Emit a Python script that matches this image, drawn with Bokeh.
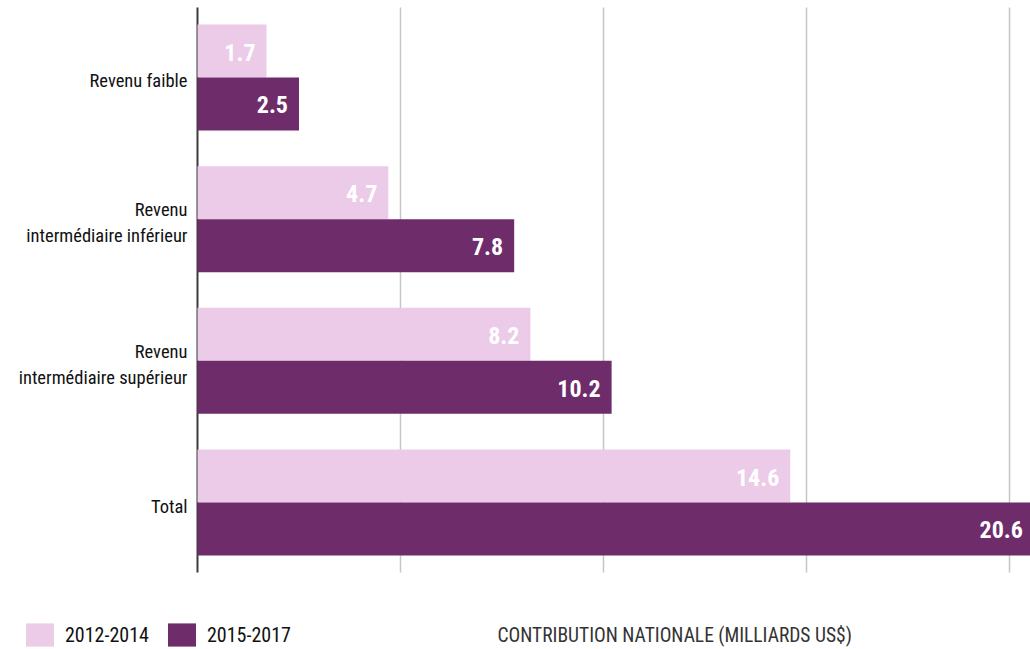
from bokeh.plotting import figure
from bokeh.models import ColumnDataSource, Range1d, Legend, LegendItem, Label
from bokeh.core.properties import value
from bokeh.embed import file_html
from bokeh.resources import INLINE

# ---- data ----
categories = ["Revenu faible", "Revenu\nintermédiaire inférieur",
              "Revenu\nintermédiaire supérieur", "Total"]
v_2012_2014 = [1.7, 4.7, 8.2, 14.6]
v_2015_2017 = [2.5, 7.8, 10.2, 20.6]
periods = ["2012-2014", "2015-2017"]
x_grid_ticks = [5, 10, 15, 20]
x_title = "CONTRIBUTION  NATIONALE  (MILLIARDS  US$)"

LIGHT = "#EBCBE8"
DARK = "#6E2C6B"
FONT = "Roboto Condensed"

n = len(categories)
centers = [n - 0.5 - i for i in range(n)]
bar_h = 0.374
chart_bottom, chart_top = 0.006, 3.994   # extent of the bar area (y units)

src1 = ColumnDataSource(dict(y=[c + bar_h / 2 for c in centers], x=v_2012_2014,
                             lab=[f"{v:.1f}" for v in v_2012_2014]))
src2 = ColumnDataSource(dict(y=[c - bar_h / 2 for c in centers], x=v_2015_2017,
                             lab=[f"{v:.1f}" for v in v_2015_2017]))
cat_src = ColumnDataSource(dict(y=centers, x=[0] * n, lab=categories))
grid_src = ColumnDataSource(dict(x=x_grid_ticks))

p = figure(width=1030, height=649, output_backend="svg", toolbar_location=None,
           x_range=Range1d(-4.852, 20.517), y_range=Range1d(-0.5376, 4.0435),
           x_axis_location=None, y_axis_location=None,
           min_border_left=0, min_border_right=0, min_border_top=0,
           min_border_bottom=0)
p.outline_line_color = None
p.xgrid.visible = False
p.ygrid.visible = False

# vertical grid lines and the category axis line
p.segment(x0="x", x1="x", y0=chart_bottom, y1=chart_top, source=grid_src,
          line_color="#c6c6c6", line_width=1.5)
p.segment(x0=0, x1=0, y0=chart_bottom, y1=chart_top,
          line_color="#3c3c3c", line_width=2)

r1 = p.hbar(y="y", right="x", left=0, height=bar_h, source=src1,
            fill_color=LIGHT, line_color=None)
r2 = p.hbar(y="y", right="x", left=0, height=bar_h, source=src2,
            fill_color=DARK, line_color=None)

for src in (src1, src2):
    p.text(x="x", y="y", text="lab", source=src, x_offset=-11, y_offset=1,
           text_align="right", text_baseline="middle", text_color="white",
           text_font=value(FONT), text_font_size="24px", text_font_style="bold")

# category labels (left of the axis line)
p.text(x="x", y="y", text="lab", source=cat_src, x_offset=-10, y_offset=4,
       text_align="right", text_baseline="middle", text_color="#111111",
       text_font=value(FONT), text_font_size="18.5px", text_line_height=1.2)

legend = Legend(items=[LegendItem(label=periods[0], renderers=[r1]),
                       LegendItem(label=periods[1], renderers=[r2])],
                orientation="horizontal", location=(22, 0),
                glyph_width=35, glyph_height=29, label_standoff=8, spacing=15,
                padding=0, margin=0, border_line_color=None,
                background_fill_alpha=0, label_text_font=FONT,
                label_text_font_size="20px", label_text_color="#111111")
p.add_layout(legend, "center")

title = Label(x=497, y=14, x_units="screen", y_units="screen", text=x_title,
              text_font=FONT, text_font_size="19.5px", text_color="#333333",
              text_baseline="alphabetic")
p.add_layout(title)

open("out.html", "w").write(file_html(p, INLINE))
